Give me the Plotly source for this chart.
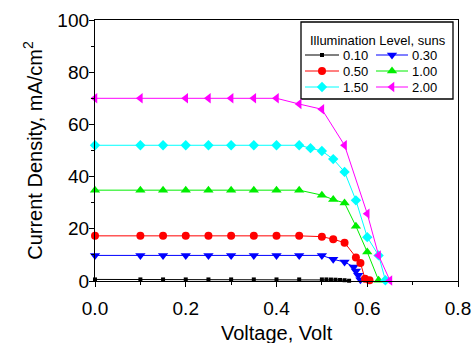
import plotly.graph_objects as go

# Illumination levels (suns) and their J-V curves
levels = ["0.10", "0.30", "0.50", "1.00", "1.50", "2.00"]

v_010 = [0.0, 0.1, 0.15, 0.2, 0.25, 0.3, 0.35, 0.4, 0.45, 0.5, 0.51, 0.52, 0.53, 0.54, 0.55, 0.56]
j_010 = [0.6, 0.6, 0.6, 0.6, 0.6, 0.6, 0.6, 0.6, 0.6, 0.6, 0.6, 0.55, 0.5, 0.4, 0.3, 0.1]

v_030 = [0.0, 0.1, 0.15, 0.2, 0.25, 0.3, 0.35, 0.4, 0.45, 0.5, 0.525, 0.55, 0.57, 0.575, 0.58, 0.585]
j_030 = [9.8, 9.8, 9.8, 9.8, 9.8, 9.8, 9.8, 9.8, 9.8, 9.8, 8.3, 7.3, 5.4, 3.8, 2.2, 0.5]

v_050 = [0.0, 0.1, 0.15, 0.2, 0.25, 0.3, 0.35, 0.4, 0.45, 0.5, 0.525, 0.55, 0.575, 0.585, 0.595, 0.605]
j_050 = [17.3, 17.3, 17.3, 17.3, 17.3, 17.3, 17.3, 17.3, 17.3, 17.0, 16.0, 14.7, 9.0, 6.9, 0.9, 0.3]

v_100 = [0.0, 0.1, 0.15, 0.2, 0.25, 0.3, 0.35, 0.4, 0.45, 0.5, 0.525, 0.55, 0.575, 0.6, 0.625]
j_100 = [34.8, 34.8, 34.8, 34.8, 34.8, 34.8, 34.8, 34.8, 34.8, 32.9, 31.2, 29.9, 21.0, 11.1, 0.3]

v_150 = [0.0, 0.1, 0.15, 0.2, 0.25, 0.3, 0.35, 0.4, 0.45, 0.475, 0.5, 0.525, 0.55, 0.575, 0.6, 0.625, 0.64]
j_150 = [52.0, 52.0, 52.0, 52.0, 52.0, 52.0, 52.0, 52.0, 52.0, 50.9, 49.8, 46.7, 41.8, 30.9, 16.8, 9.8, 0.3]

v_200 = [0.0, 0.1, 0.2, 0.25, 0.3, 0.35, 0.4, 0.45, 0.5, 0.55, 0.6, 0.625, 0.65]
j_200 = [70.0, 70.0, 70.0, 70.0, 70.0, 70.0, 70.0, 67.8, 65.8, 52.0, 25.8, 9.8, 0.2]

x_ticks = [0.0, 0.2, 0.4, 0.6, 0.8]
x_tick_text = ["0.0", "0.2", "0.4", "0.6", "0.8"]
y_ticks = [0, 20, 40, 60, 80, 100]

x_title = "Voltage, Volt"
y_title = "Current Density, mA/cm<sup>2</sup>"
legend_title = "Illumination Level, suns"

series = [
    (v_010, j_010, "#000000", "square", 4),
    (v_030, j_030, "#0000ff", "triangle-down", 9),
    (v_050, j_050, "#ff0000", "circle", 8),
    (v_100, j_100, "#00ee00", "triangle-up", 9),
    (v_150, j_150, "#00ffff", "diamond", 8),
    (v_200, j_200, "#ff00ff", "triangle-left", 9),
]

FONT = "Arial, Liberation Sans, sans-serif"
W, H = 476, 343
L, R, T, B = 95, 18, 20, 62
PW, PH = W - L - R, H - T - B

fig = go.Figure()

for (vx, jy, col, sym, sz), name in zip(series, levels):
    fig.add_trace(go.Scatter(
        x=vx, y=jy, mode="lines+markers", name=name,
        line=dict(color=col, width=1),
        marker=dict(symbol=sym, size=sz, color=col, line=dict(width=0)),
        showlegend=False, cliponaxis=False,
    ))

# Boxed two-column key drawn on a pixel-unit overlay axis (origin at plot top-left)
box = (301 - L, 22 - T, 453 - L, 99 - T)
fig.add_shape(type="rect", xref="x2", yref="y2",
              x0=box[0], y0=box[1], x1=box[2], y1=box[3],
              line=dict(color="black", width=1.3), fillcolor="white", layer="below")

col_x = [(305 - L, 322 - L, 339 - L), (376 - L, 392 - L, 408 - L)]
row_y = [55 - T, 71 - T, 87 - T]
for i, ((_, _, col, sym, sz), name) in enumerate(zip(series, levels)):
    cx0, cxm, cx1 = col_x[i % 2]
    ry = row_y[i // 2]
    fig.add_trace(go.Scatter(
        x=[cx0, cx1], y=[ry, ry], xaxis="x2", yaxis="y2", mode="lines",
        line=dict(color=col, width=1), showlegend=False, hoverinfo="skip",
    ))
    fig.add_trace(go.Scatter(
        x=[cxm], y=[ry], xaxis="x2", yaxis="y2", mode="markers",
        marker=dict(symbol=sym, size=sz, color=col, line=dict(width=0)),
        showlegend=False, hoverinfo="skip",
    ))
    fig.add_annotation(x=cx1 + 2, y=ry, xref="x2", yref="y2", text=name,
                       showarrow=False, xanchor="left", yanchor="middle",
                       font=dict(family=FONT, size=13, color="black"))

fig.add_annotation(x=(box[0] + box[2]) / 2 + 1, y=40 - T, xref="x2", yref="y2",
                   text=legend_title, showarrow=False, xanchor="center", yanchor="middle",
                   font=dict(family=FONT, size=13, color="black"))

# Horizontal axis title, placed below the tick labels
fig.add_annotation(x=0.5, y=-(333 - T - PH) / PH, xref="paper", yref="paper",
                   text=x_title, showarrow=False, xanchor="center", yanchor="middle",
                   font=dict(family=FONT, size=20, color="black"))

axis_common = dict(
    showgrid=False, zeroline=False, showline=True, linecolor="black", linewidth=1.3,
    mirror=True, ticks="outside", tickcolor="black", tickwidth=1.2, ticklen=5,
    tickfont=dict(family=FONT, size=19, color="black"), automargin=False,
)

fig.update_layout(
    width=W, height=H,
    margin=dict(l=L, r=R, t=T, b=B),
    paper_bgcolor="white", plot_bgcolor="white",
    font=dict(family=FONT, color="black"),
    showlegend=False,
    xaxis=dict(
        range=[0, 0.8], tickvals=x_ticks, ticktext=x_tick_text,
        ticklabelstandoff=5,
        minor=dict(tickvals=[0.1, 0.3, 0.5, 0.7], ticks="outside", ticklen=3,
                   tickcolor="black", tickwidth=1),
        **axis_common,
    ),
    yaxis=dict(
        range=[0, 100], tickvals=y_ticks,
        ticklabelstandoff=-4,
        minor=dict(tickvals=[10, 30, 50, 70, 90], ticks="outside", ticklen=3,
                   tickcolor="black", tickwidth=1),
        title=dict(text=y_title, font=dict(family=FONT, size=20), standoff=9),
        **axis_common,
    ),
    xaxis2=dict(overlaying="x", range=[0, PW], visible=False, fixedrange=True),
    yaxis2=dict(overlaying="y", range=[PH, 0], visible=False, fixedrange=True),
)

fig.write_html("out.html")
